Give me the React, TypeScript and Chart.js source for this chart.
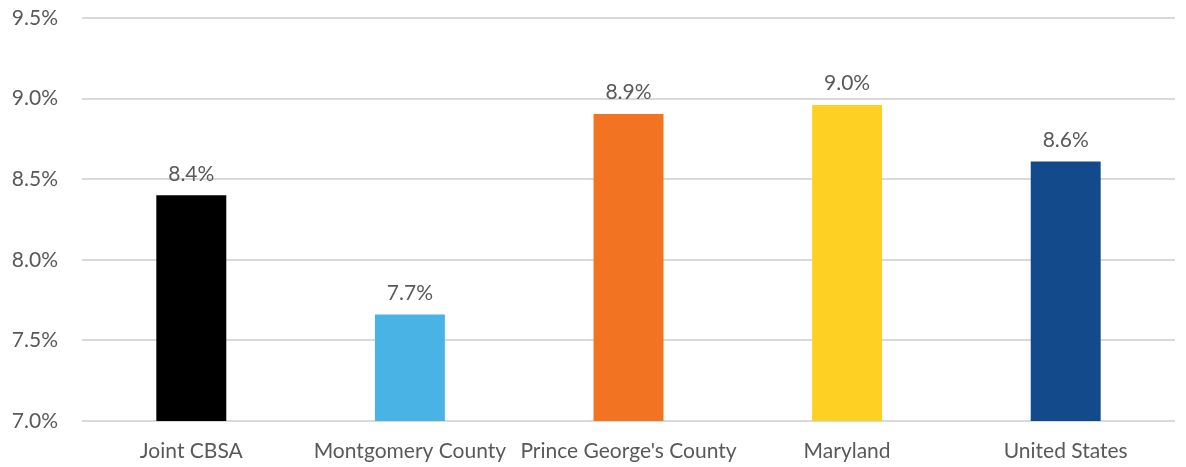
import React, { useEffect, useRef } from "react";
import { Chart, registerables } from "chart.js";

Chart.register(...registerables);

const categories = ["Joint CBSA", "Montgomery County", "Prince George's County", "Maryland", "United States"];
const values = [8.4, 7.66, 8.905, 8.96, 8.61];
const barColors = ["#000000", "#4ab3e6", "#f27321", "#fdd023", "#124a8c"];
const yTicks = [7.0, 7.5, 8.0, 8.5, 9.0, 9.5];

const FONT = "Lato, 'Open Sans', sans-serif";
const TEXT = "#595959";
const SIZE = 21;

const labelPlugin = {
  id: "barLabels",
  afterDatasetsDraw(chart: any) {
    const ctx = chart.ctx;
    const meta = chart.getDatasetMeta(0);
    ctx.save();
    ctx.font = `${SIZE}px ${FONT}`;
    ctx.fillStyle = TEXT;
    ctx.textAlign = "center";
    ctx.textBaseline = "bottom";
    meta.data.forEach((bar: any, i: number) => {
      ctx.fillText(values[i].toFixed(1) + "%", bar.x, bar.y - 11);
    });
    ctx.restore();
  },
};

export default function App() {
  const ref = useRef<HTMLCanvasElement>(null);
  useEffect(() => {
    document.body.style.margin = "0";
    const chart = new Chart(ref.current!, {
      type: "bar",
      data: {
        labels: categories,
        datasets: [
          {
            data: values,
            backgroundColor: barColors,
            categoryPercentage: 1,
            barPercentage: 0.32,
          },
        ],
      },
      options: {
        animation: false,
        responsive: false,
        maintainAspectRatio: false,
        layout: { padding: { top: 18, right: 11, left: 0, bottom: 0 } },
        plugins: { legend: { display: false }, tooltip: { enabled: false } },
        scales: {
          x: {
            grid: { display: false, drawTicks: false },
            border: { display: false },
            ticks: { color: TEXT, font: { family: FONT, size: SIZE }, padding: 18, maxRotation: 0, autoSkip: false },
            afterFit: (s: any) => { s.height = 46; },
          },
          y: {
            min: 7,
            max: 9.5,
            afterBuildTicks: (s: any) => { s.ticks = yTicks.map((v) => ({ value: v })); },
            grid: { color: "#d9d9d9", lineWidth: 2, drawTicks: false },
            border: { display: false },
            ticks: {
              color: TEXT,
              font: { family: FONT, size: SIZE },
              padding: 24,
              callback: (v: any) => Number(v).toFixed(1) + "%",
            },
            afterFit: (s: any) => { s.width = 82; s.paddingTop = 0; s.paddingBottom = 0; },
          },
        },
      },
      plugins: [labelPlugin],
    });
    return () => chart.destroy();
  }, []);
  return (
    <div style={{ width: 1186, height: 467, background: "#fff" }}>
      <canvas ref={ref} width={1186} height={467} />
    </div>
  );
}
